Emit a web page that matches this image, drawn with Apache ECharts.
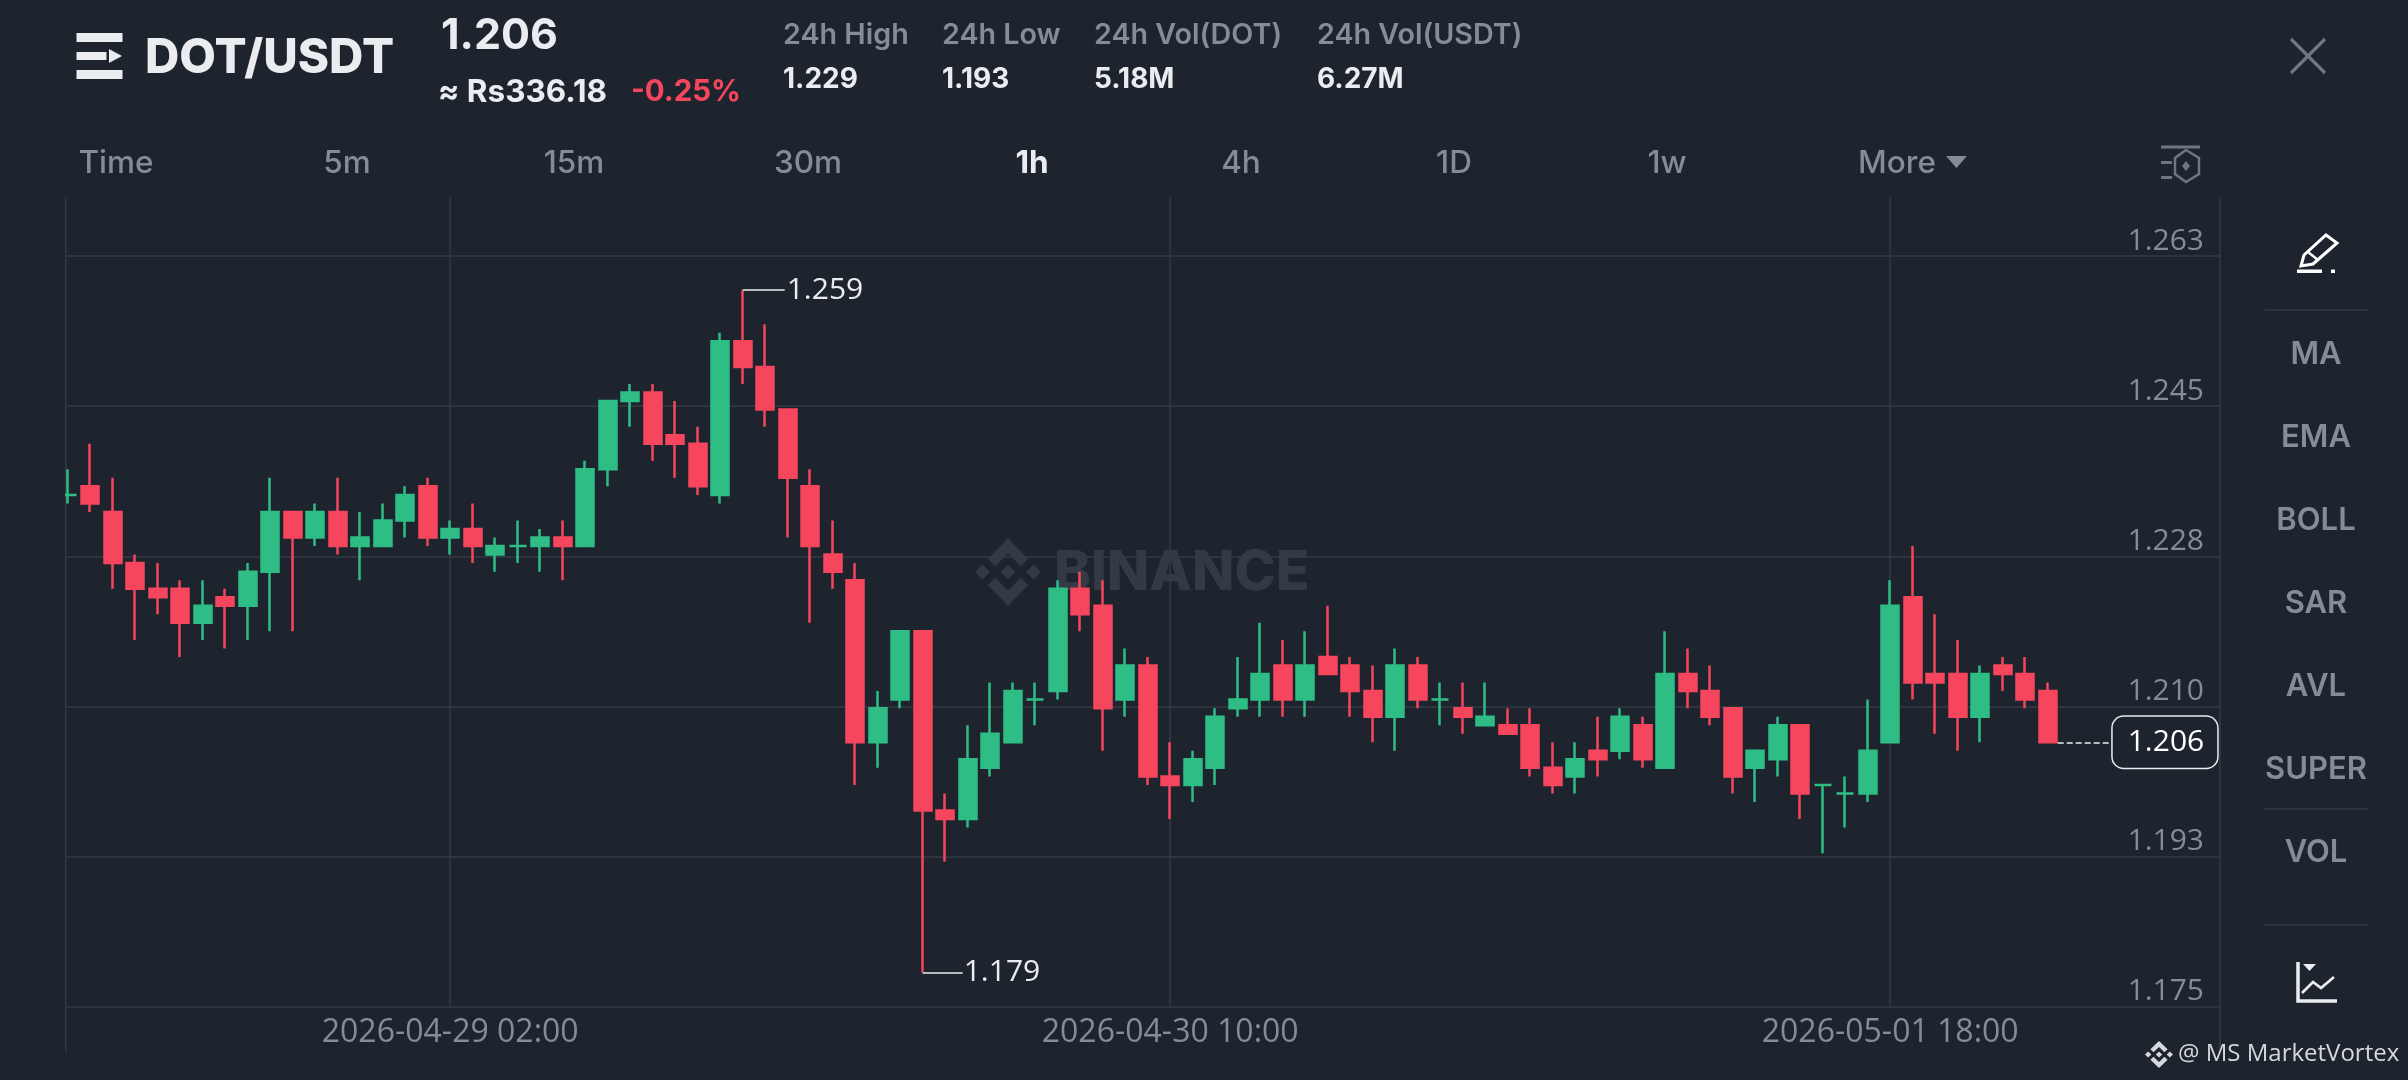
<!DOCTYPE html>
<html><head><meta charset="utf-8">
<style>html,body{margin:0;padding:0;background:#1e242e}#c{width:2408px;height:1080px}</style>
<script src="https://cdn.jsdelivr.net/npm/echarts@6/dist/echarts.min.js"></script>
</head><body><div id="c"></div>
<script>
const opens = [1.235,1.236,1.233,1.227,1.224,1.224,1.220,1.223,1.222,1.226,1.233,1.230,1.233,1.229,1.229,1.232,1.236,1.230,1.231,1.228,1.229,1.229,1.230,1.229,1.238,1.246,1.247,1.242,1.241,1.235,1.253,1.250,1.245,1.236,1.228,1.225,1.206,1.211,1.219,1.198,1.197,1.203,1.206,1.211,1.212,1.224,1.222,1.211,1.215,1.202,1.201,1.203,1.210,1.211,1.215,1.211,1.216,1.215,1.212,1.209,1.215,1.211,1.210,1.208,1.208,1.208,1.203,1.202,1.205,1.205,1.208,1.203,1.214,1.212,1.210,1.203,1.204,1.208,1.201,1.200,1.200,1.206,1.223,1.214,1.214,1.209,1.215,1.214,1.212];
const closes = [1.235,1.234,1.227,1.224,1.223,1.220,1.222,1.222,1.226,1.233,1.230,1.233,1.229,1.230,1.232,1.235,1.230,1.231,1.229,1.229,1.229,1.230,1.229,1.238,1.246,1.247,1.241,1.241,1.236,1.253,1.250,1.245,1.237,1.229,1.226,1.206,1.210,1.219,1.198,1.197,1.204,1.207,1.212,1.211,1.224,1.221,1.210,1.215,1.202,1.201,1.204,1.209,1.211,1.214,1.211,1.215,1.214,1.212,1.209,1.215,1.211,1.211,1.209,1.209,1.207,1.203,1.201,1.204,1.204,1.209,1.204,1.214,1.212,1.209,1.202,1.205,1.208,1.200,1.201,1.200,1.205,1.222,1.213,1.213,1.209,1.214,1.214,1.211,1.206];
const lows = [1.234,1.233,1.224,1.218,1.221,1.216,1.218,1.217,1.218,1.219,1.219,1.229,1.228,1.225,1.229,1.230,1.229,1.228,1.227,1.226,1.227,1.226,1.225,1.229,1.236,1.243,1.239,1.237,1.235,1.234,1.248,1.243,1.230,1.220,1.224,1.201,1.203,1.210,1.179,1.192,1.196,1.202,1.206,1.208,1.211,1.219,1.205,1.209,1.201,1.197,1.199,1.201,1.209,1.209,1.209,1.209,1.214,1.209,1.206,1.205,1.210,1.208,1.207,1.208,1.207,1.202,1.200,1.200,1.202,1.204,1.203,1.203,1.210,1.208,1.200,1.199,1.202,1.197,1.193,1.196,1.199,1.206,1.211,1.207,1.205,1.206,1.212,1.210,1.206];
const highs = [1.238,1.241,1.237,1.228,1.227,1.225,1.225,1.224,1.227,1.237,1.233,1.234,1.237,1.233,1.234,1.236,1.237,1.232,1.234,1.230,1.232,1.231,1.232,1.239,1.246,1.248,1.248,1.246,1.243,1.254,1.259,1.255,1.245,1.238,1.232,1.227,1.212,1.219,1.219,1.200,1.208,1.213,1.213,1.213,1.225,1.226,1.225,1.217,1.216,1.206,1.205,1.210,1.216,1.220,1.218,1.219,1.222,1.216,1.215,1.217,1.216,1.213,1.213,1.213,1.210,1.210,1.206,1.206,1.209,1.210,1.209,1.219,1.217,1.215,1.210,1.205,1.209,1.208,1.201,1.202,1.211,1.225,1.229,1.221,1.218,1.215,1.216,1.216,1.213];
const priceTicks = [1.175,1.1926,1.2102,1.2278,1.2454,1.263];
const timeTickCandles = [17,49,81];
const timeTicks = ['2026-04-29 02:00','2026-04-30 10:00','2026-05-01 18:00'];
const lastPrice = 1.206;
const tabs = ['Time','5m','15m','30m','1h','4h','1D','1w'];
const tools = ['MA','EMA','BOLL','SAR','AVL','SUPER','VOL'];
const stats = [['24h High','1.229'],['24h Low','1.193'],['24h Vol(DOT)','5.18M'],['24h Vol(USDT)','6.27M']];

const BG='#1e242e', GRID='#343a45', GRAY='#858c97', WHITE='#eaecef', RED='#f6465d', GREEN='#2ebd85';
const FF='Inter, "Open Sans", sans-serif';
const OS='"Open Sans", sans-serif';
const PXH=22.5;
const rows = opens.map((o,i)=>[i,o,closes[i],lows[i],highs[i]]);
const hiIdx = highs.indexOf(Math.max(...highs)), loIdx = lows.indexOf(Math.min(...lows));
const lastIdx = opens.length-1;

const LOGO=[
 [[38.73,53.2],[63.32,28.62],[87.92,53.22],[102.22,38.91],[63.32,0],[24.42,38.9]],
 [[0,63.31],[14.3,49],[28.61,63.31],[14.3,77.61]],
 [[38.73,73.41],[63.32,98],[87.92,73.4],[102.23,87.69],[63.33,126.6],[24.42,87.72]],
 [[98.01,63.31],[112.31,49],[126.62,63.3],[112.31,77.62]],
 [[63.32,48.78],[77.83,63.3],[63.32,77.78],[48.81,63.28]]
];
function logo(x,y,w,h,fill,z){return LOGO.map(p=>({type:'polygon',silent:true,z:z||0,shape:{points:p.map(q=>[x+q[0]/126.62*w,y+q[1]/126.6*h])},style:{fill}}));}
function txt(text,x,y,size,weight,fill,align,family){return {type:'text',silent:true,style:{text,x,y,font:`${weight} ${size}px ${family||FF}`,fill,textAlign:align||'left',textVerticalAlign:'middle'}};}
function rect(x,y,w,h,fill){return {type:'rect',silent:true,shape:{x,y,width:w,height:h},style:{fill}};}
function poly(points,fill){return {type:'polygon',silent:true,shape:{points},style:{fill}};}
function pline(points,stroke,lw){return {type:'polyline',silent:true,shape:{points},style:{stroke,lineWidth:lw,fill:null}};}
function vline(x,y1,y2,c){return {type:'line',silent:true,shape:{x1:x,y1,x2:x,y2},style:{stroke:c,lineWidth:1.5}};}
function hline(x1,x2,y,c,lw){return {type:'line',silent:true,shape:{x1,y1:y,x2,y2:y},style:{stroke:c,lineWidth:lw||1.5}};}

const g=[];
g.push({type:'rect',silent:true,z:10,shape:{x:40,y:430,width:25,height:90},style:{fill:BG}});
g.push(vline(65.7,197,1052,GRID),vline(2220,197,1052,GRID));
g.push(rect(76.5,33,46,9,WHITE),rect(76.5,52,30,8,WHITE),poly([[109,49],[122,56],[109,63]],WHITE),rect(76.5,70,46,9,WHITE));
g.push(txt('DOT/USDT',145,58.5,47.5,800,WHITE));
g.push(txt('1.206',441,36,43,700,WHITE));
g.push(txt('≈ Rs336.18',438,92.5,31.5,700,WHITE));
g.push(txt('-0.25%',631,92.5,29.5,700,RED));
const statX=[783,942,1094,1317];
stats.forEach((s,i)=>{g.push(txt(s[0],statX[i],35.5,28.7,600,GRAY));g.push(txt(s[1],statX[i],80,28,700,WHITE));});
const tabX=[116,347,574,808,1032,1241,1454,1667];
tabs.forEach((t,i)=>g.push(txt(t,tabX[i],163.5,31.5,t==='1h'?700:500,t==='1h'?WHITE:GRAY,'center')));
g.push(txt('More',1897,163.5,31.5,500,GRAY,'center'));
g.push(poly([[1946,156],[1967,156],[1956.5,168]],GRAY));
g.push(rect(2161,145.5,39,3,'#6f7682'),rect(2161,161,11,3,'#6f7682'),rect(2161,176,11,3,'#6f7682'));
g.push({type:'polygon',silent:true,shape:{points:[[2186,150],[2199,158],[2199,174],[2186,182],[2175,174],[2175,158]]},style:{stroke:'#6f7682',lineWidth:2.5,fill:null}});
g.push(poly([[2186,161],[2190,166],[2186,171],[2182,166]],'#6f7682'));
g.push(pline([[2291,39],[2325,73]],'#6f7682',3.2),pline([[2325,39],[2291,73]],'#6f7682',3.2));
g.push({type:'polygon',silent:true,shape:{points:[[2326,235],[2337,243],[2313,264],[2301,266],[2304,255]]},style:{stroke:'#ffffff',lineWidth:3,fill:null}});
g.push(pline([[2308,252],[2318,260]],'#ffffff',2.5));
g.push(rect(2297,269.5,25,3.5,'#ffffff'),rect(2331,269.5,4,3.5,'#ffffff'));
g.push(hline(2265,2368,310,GRID),hline(2264,2368,809,GRID),hline(2264,2368,925,GRID));
const toolY=[354.5,437.5,520.5,603.5,686.5,769.5,852.5];
tools.forEach((t,i)=>g.push(txt(t,2316,toolY[i],31,600,GRAY,'center')));
g.push(pline([[2298,962],[2298,1001],[2337,1001]],WHITE,3.5));
g.push(pline([[2302,993],[2313,982],[2321,988],[2334,977]],WHITE,2.8));
g.push(poly([[2303,964],[2316,964],[2309.5,971]],WHITE));
g.push(...logo(975,538,66,68,'#343a45'));
g.push(txt('BINANCE',1054,573.5,55.5,800,'#343a45'));
g.push(...logo(2145,1041,28,27,'#d5d8dc'));
g.push(txt('@ MS MarketVortex',2178,1054,24,400,'#d5d8dc','left',OS));

const labelFont={fontFamily:OS,fontSize:30,color:WHITE};
const option={
  backgroundColor:BG,animation:false,
  grid:{left:65.7,right:188,top:197,bottom:73.3},
  xAxis:{type:'value',min:-2/PXH,max:(2220-67.7)/PXH,
    axisLine:{show:false},
    axisTick:{show:false,customValues:timeTickCandles},
    splitLine:{show:true,lineStyle:{color:GRID,width:1.5}},
    axisLabel:{customValues:timeTickCandles,margin:10,color:GRAY,fontFamily:OS,fontSize:32,hideOverlap:false,
      formatter:v=>timeTicks[timeTickCandles.indexOf(v)]}},
  yAxis:{type:'value',position:'right',min:1.175,max:1.26992,scale:true,
    axisLine:{show:false},
    axisTick:{show:false,customValues:priceTicks},
    splitLine:{show:true,lineStyle:{color:GRID,width:1.5}},
    axisLabel:{customValues:priceTicks,inside:true,margin:16,color:GRAY,fontFamily:OS,fontSize:30,verticalAlign:'bottom',padding:[0,0,0,0],
      formatter:v=>v.toFixed(3)}},
  graphic:{elements:g},
  series:[{type:'candlestick',data:rows,encode:{x:0,y:[1,2,3,4]},barWidth:17.5,z:3,clip:true,
    itemStyle:{color:GREEN,color0:RED,borderColor:GREEN,borderColor0:RED,borderColorDoji:GREEN,borderWidth:2.5},
    markLine:{silent:true,symbol:'none',animation:false,
      data:[
        [{coord:[hiIdx,highs[hiIdx]],lineStyle:{color:WHITE,width:1.5,type:'solid'},label:{show:true,position:'end',distance:2,formatter:highs[hiIdx].toFixed(3),...labelFont}},
         {coord:[hiIdx+42/PXH,highs[hiIdx]]}],
        [{coord:[loIdx,lows[loIdx]],lineStyle:{color:WHITE,width:1.5,type:'solid'},label:{show:true,position:'end',distance:1,formatter:lows[loIdx].toFixed(3),...labelFont}},
         {coord:[loIdx+40/PXH,lows[loIdx]]}],
        [{coord:[lastIdx+10/PXH,lastPrice],lineStyle:{color:WHITE,width:1.5,type:'dashed'},label:{show:true,position:'end',distance:0,formatter:lastPrice.toFixed(3),fontFamily:OS,fontSize:30,color:'#ffffff',backgroundColor:BG,borderColor:WHITE,borderWidth:1.5,borderRadius:11,padding:[11,13,10,15]}},
         {coord:[lastIdx+65/PXH,lastPrice]}]
      ]}
  }]
};
const chart=echarts.init(document.getElementById('c'),null,{renderer:'canvas'});
chart.setOption(option);
</script></body></html>
